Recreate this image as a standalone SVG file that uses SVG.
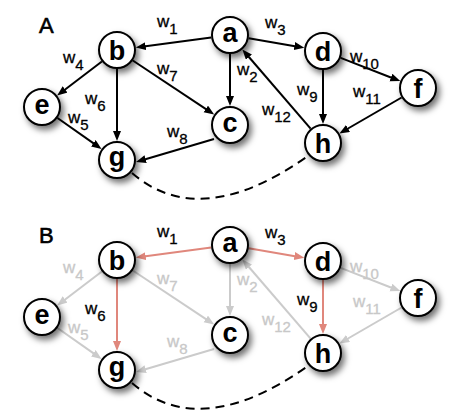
<svg xmlns="http://www.w3.org/2000/svg" width="450" height="418" viewBox="0 0 450 418">
<style>
.node circle{fill:#fff;stroke:#000;stroke-width:2;filter:url(#sh)}
.node text{font-family:"Liberation Sans",Arial,sans-serif;font-weight:bold;font-size:27px;text-anchor:middle;fill:#000}
.e{fill:none;stroke-width:2}
.k{stroke:#000;marker-end:url(#ak)}
.r{stroke:#e0877c;marker-end:url(#ar)}
.g{stroke:#cbcbcb;marker-end:url(#ag)}
.dash{fill:none;stroke:#000;stroke-width:2;stroke-dasharray:9 6}
.lbl{font-family:"Liberation Sans",Arial,sans-serif;font-size:17px;fill:#000;stroke:#000;stroke-width:0.3}
.lbl.gr{fill:#c8c8c8;stroke:#c8c8c8}
.lbl tspan{font-size:15px}
.title{font-family:"Liberation Sans",Arial,sans-serif;font-size:22px;fill:#000;stroke:#000;stroke-width:0.6}
</style>
<defs>
<filter id="sh" x="-50%" y="-50%" width="200%" height="200%">
<feDropShadow dx="3" dy="4" stdDeviation="3" flood-color="#000" flood-opacity="0.55"/>
</filter>
<marker id="ak" markerUnits="userSpaceOnUse" markerWidth="12" markerHeight="10" refX="2" refY="4" orient="auto"><path d="M0,0 L10,4 L0,8 z" fill="#000"/></marker>
<marker id="ar" markerUnits="userSpaceOnUse" markerWidth="12" markerHeight="10" refX="2" refY="4" orient="auto"><path d="M0,0 L10,4 L0,8 z" fill="#e0877c"/></marker>
<marker id="ag" markerUnits="userSpaceOnUse" markerWidth="12" markerHeight="10" refX="2" refY="4" orient="auto"><path d="M0,0 L10,4 L0,8 z" fill="#cbcbcb"/></marker>
</defs>

<text class="title" x="39" y="33">A</text>
<text class="title" x="39" y="243">B</text>

<g id="connectors-A">
<path class="e k" d="M211.2,37.5 L143.7,46.4"/>
<path class="e k" d="M230,54 L230,98"/>
<path class="e k" d="M248.7,38.2 L296.4,46.4"/>
<path class="e k" d="M101.9,61.5 L63.5,90.7"/>
<path class="e k" d="M57.5,118 L95,144.4"/>
<path class="e k" d="M117,69 L117,133"/>
<path class="e k" d="M132.8,60.5 L207.5,110.1"/>
<path class="e k" d="M214,139 L143.7,159.7"/>
<path class="e k" d="M323,70 L323,116"/>
<path class="e k" d="M340.7,57.9 L392.8,78.2"/>
<path class="e k" d="M401.6,97.5 L346.3,129.5"/>
<path class="e k" d="M310.6,128.6 L247.6,55.5"/>
<path class="dash" d="M132,173 Q200,232 308,156"/>
</g>

<g id="labels-A">
<text class="lbl" x="157" y="27">w<tspan dy="7">1</tspan></text>
<text class="lbl" x="237" y="75">w<tspan dy="7">2</tspan></text>
<text class="lbl" x="265" y="28">w<tspan dy="7">3</tspan></text>
<text class="lbl" x="63" y="63">w<tspan dy="7">4</tspan></text>
<text class="lbl" x="68" y="123">w<tspan dy="7">5</tspan></text>
<text class="lbl" x="85" y="104">w<tspan dy="7">6</tspan></text>
<text class="lbl" x="157" y="74">w<tspan dy="7">7</tspan></text>
<text class="lbl" x="167" y="137">w<tspan dy="7">8</tspan></text>
<text class="lbl" x="297" y="95">w<tspan dy="7">9</tspan></text>
<text class="lbl" x="350" y="62">w<tspan dy="7">10</tspan></text>
<text class="lbl" x="353" y="97">w<tspan dy="7">11</tspan></text>
<text class="lbl" x="262" y="115">w<tspan dy="7">12</tspan></text>
</g>

<g id="A-a" class="node"><circle cx="230" cy="35" r="18"/><text x="230" y="42">a</text></g>
<g id="A-b" class="node"><circle cx="117" cy="50" r="18"/><text x="117" y="60">b</text></g>
<g id="A-c" class="node"><circle cx="230" cy="125" r="18"/><text x="230" y="132">c</text></g>
<g id="A-d" class="node"><circle cx="323" cy="51" r="18"/><text x="323" y="61">d</text></g>
<g id="A-e" class="node"><circle cx="42" cy="107" r="18"/><text x="42" y="114">e</text></g>
<g id="A-f" class="node"><circle cx="418" cy="88" r="18"/><text x="418" y="98">f</text></g>
<g id="A-g" class="node"><circle cx="117" cy="160" r="18"/><text x="117" y="166">g</text></g>
<g id="A-h" class="node"><circle cx="323" cy="143" r="18"/><text x="323" y="153">h</text></g>

<g transform="translate(0,210)">
<g id="connectors-B">
<path class="e g" d="M230,54 L230,98"/>
<path class="e g" d="M101.9,61.5 L63.5,90.7"/>
<path class="e g" d="M57.5,118 L95,144.4"/>
<path class="e g" d="M132.8,60.5 L207.5,110.1"/>
<path class="e g" d="M214,139 L143.7,159.7"/>
<path class="e g" d="M340.7,57.9 L392.8,78.2"/>
<path class="e g" d="M401.6,97.5 L346.3,129.5"/>
<path class="e g" d="M310.6,128.6 L247.6,55.5"/>
<path class="e r" d="M211.2,37.5 L143.7,46.4"/>
<path class="e r" d="M248.7,38.2 L296.4,46.4"/>
<path class="e r" d="M117,69 L117,133"/>
<path class="e r" d="M323,70 L323,116"/>
<path class="dash" d="M132,173 Q200,232 308,156"/>
</g>

<g id="labels-B">
<text class="lbl" x="157" y="27">w<tspan dy="7">1</tspan></text>
<text class="lbl gr" x="237" y="75">w<tspan dy="7">2</tspan></text>
<text class="lbl" x="265" y="28">w<tspan dy="7">3</tspan></text>
<text class="lbl gr" x="63" y="63">w<tspan dy="7">4</tspan></text>
<text class="lbl gr" x="68" y="123">w<tspan dy="7">5</tspan></text>
<text class="lbl" x="85" y="104">w<tspan dy="7">6</tspan></text>
<text class="lbl gr" x="157" y="74">w<tspan dy="7">7</tspan></text>
<text class="lbl gr" x="167" y="137">w<tspan dy="7">8</tspan></text>
<text class="lbl" x="297" y="95">w<tspan dy="7">9</tspan></text>
<text class="lbl gr" x="350" y="62">w<tspan dy="7">10</tspan></text>
<text class="lbl gr" x="353" y="97">w<tspan dy="7">11</tspan></text>
<text class="lbl gr" x="262" y="115">w<tspan dy="7">12</tspan></text>
</g>

<g id="B-a" class="node"><circle cx="230" cy="35" r="18"/><text x="230" y="42">a</text></g>
<g id="B-b" class="node"><circle cx="117" cy="50" r="18"/><text x="117" y="60">b</text></g>
<g id="B-c" class="node"><circle cx="230" cy="125" r="18"/><text x="230" y="132">c</text></g>
<g id="B-d" class="node"><circle cx="323" cy="51" r="18"/><text x="323" y="61">d</text></g>
<g id="B-e" class="node"><circle cx="42" cy="107" r="18"/><text x="42" y="114">e</text></g>
<g id="B-f" class="node"><circle cx="418" cy="88" r="18"/><text x="418" y="98">f</text></g>
<g id="B-g" class="node"><circle cx="117" cy="160" r="18"/><text x="117" y="166">g</text></g>
<g id="B-h" class="node"><circle cx="323" cy="143" r="18"/><text x="323" y="153">h</text></g>
</g>
</svg>
